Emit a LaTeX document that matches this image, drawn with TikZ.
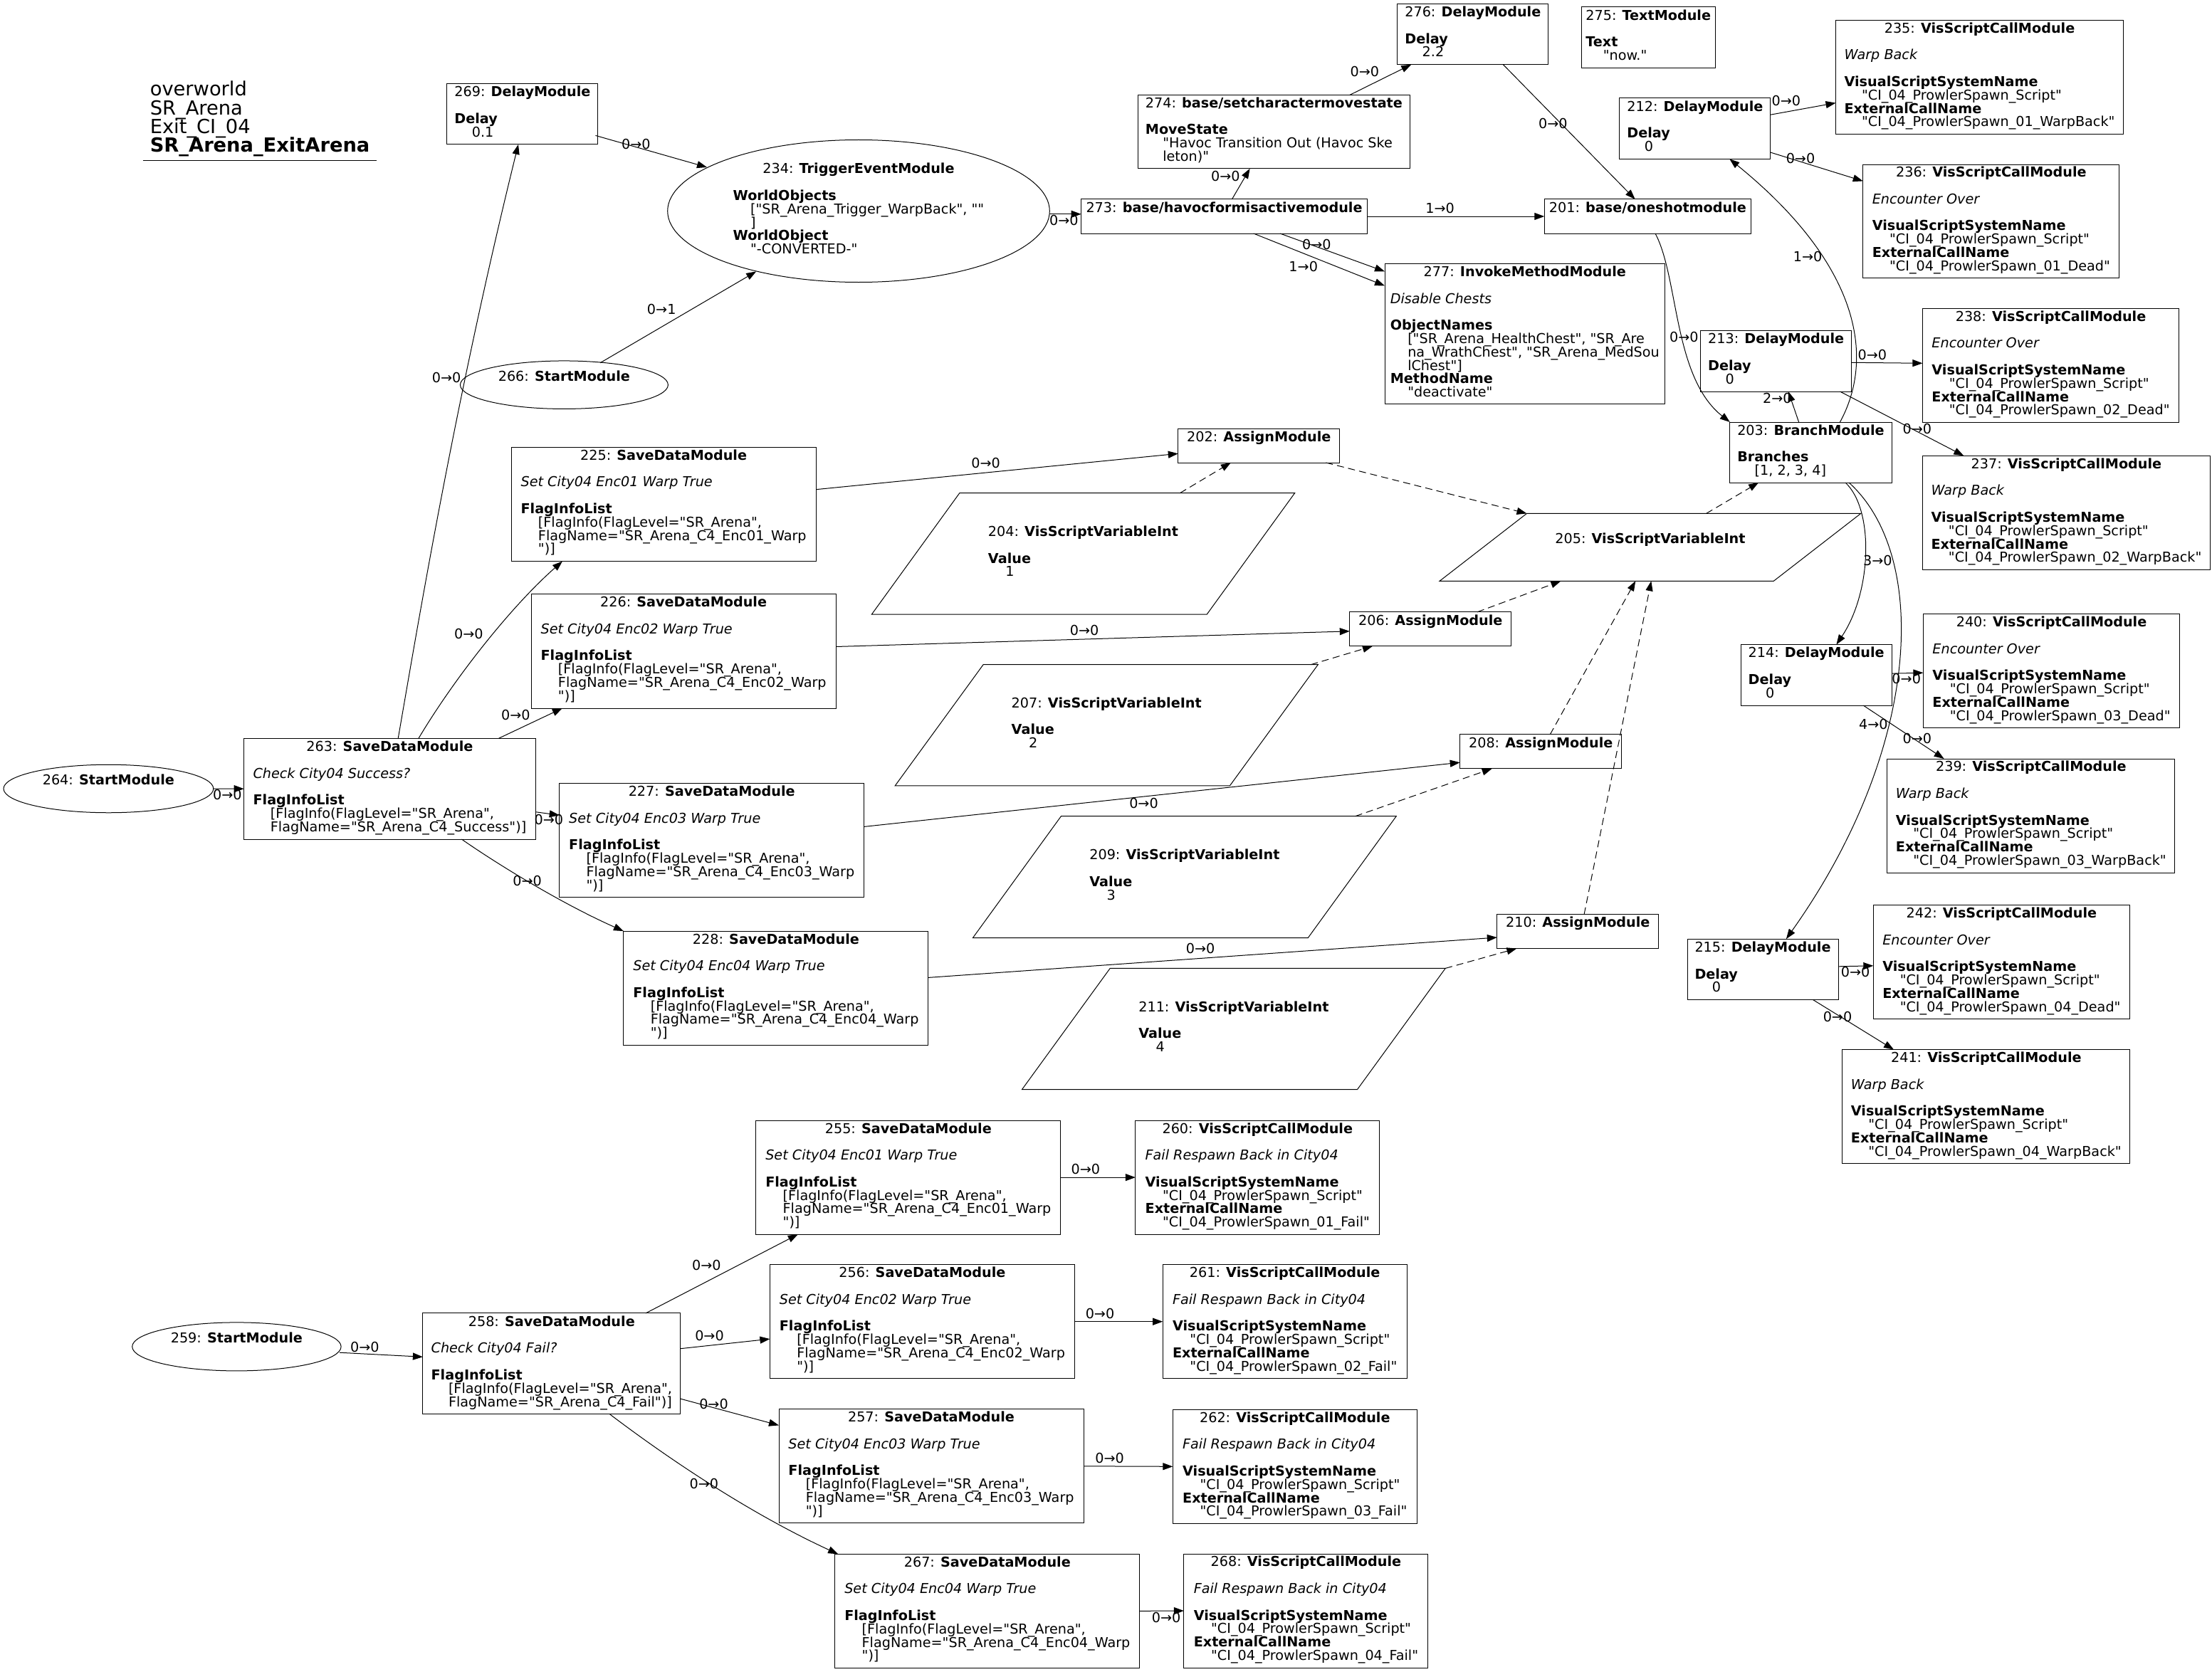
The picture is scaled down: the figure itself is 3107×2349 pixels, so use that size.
\documentclass[tikz,border=0pt]{standalone}
\usepackage{fontspec}
\setmainfont{DejaVu Sans}[Ligatures=TeXOff,ItalicFont={DejaVu Sans Oblique},BoldFont={DejaVu Sans Bold},BoldItalicFont={DejaVu Sans Bold Oblique}]
\usetikzlibrary{arrows.meta,shapes.geometric,calc}
\newcommand\bodyfont{\fontsize{19.2pt}{18.8pt}\selectfont}
\newcommand\hdfont{\fontsize{27.3pt}{26.3pt}\selectfont}
\newcommand\Tl[2]{\multicolumn{1}{@{}c@{}}{\smash{#1: \textbf{#2}}}}
\newcommand\Kl[1]{\smash{\textbf{#1}}}
\newcommand\Il[1]{\smash{\textit{#1}}}
\newcommand\Vl[1]{\smash{\hspace*{24.4pt}#1}}
\newcommand\Tb[1]{\begin{tabular}{@{}l@{}}#1\end{tabular}}
\newcommand\VSC[4]{\Tb{\Tl{#1}{VisScriptCallModule}\\ \\ \Il{#2}\\ \\ \Kl{VisualScriptSystemName}\\ \Vl{"CI\_04\_ProwlerSpawn\_Script"}\\ \Kl{ExternalCallName}\\ \Vl{"CI\_04\_ProwlerSpawn\_0#3\_#4"}}}
\newcommand\SDM[2]{\Tb{\Tl{#1}{SaveDataModule}\\ \\ \Il{Set City04 Enc0#2 Warp True}\\ \\ \Kl{FlagInfoList}\\ \Vl{[FlagInfo(FlagLevel="SR\_Arena",}\\ \Vl{FlagName="SR\_Arena\_C4\_Enc0#2\_Warp}\\ \Vl{")]}}}
\newcommand\DLM[2]{\Tb{\Tl{#1}{DelayModule}\\ \\ \Kl{Delay}\\ \Vl{#2}}}
\newcommand\ONE[2]{\Tb{\Tl{#1}{#2}\\ \mbox{}}}
\newcommand\VSV[2]{\Tb{\Tl{#1}{VisScriptVariableInt}\\ \\ \Kl{Value}\\ \Vl{#2}}}
\tikzset{
  bx/.style={draw, rectangle, line width=1pt, inner sep=0pt, outer sep=0pt, font=\bodyfont},
  el/.style={draw, ellipse, line width=1pt, inner sep=0pt, outer sep=0pt, font=\bodyfont},
  pg/.style={draw=none, rectangle, inner sep=0pt, outer sep=0pt, font=\bodyfont},
  pgline/.style={line width=1pt, line join=miter},
  lb/.style={inner sep=0pt, font=\bodyfont},
  hd/.style={inner sep=0pt, font=\hdfont},
  ar/.style={line width=1pt, -{Triangle[length=14pt,width=10pt]}},
  dar/.style={ar, dash pattern=on 10pt off 6pt}
}
\begin{document}
\begin{tikzpicture}[x=1pt,y=-1pt]
\fill[white] (0,0) rectangle (3107,2349);
\useasboundingbox (0,0) rectangle (3107,2349);

% title
\node[hd, anchor=base west] (t1) at (210.6,135) {overworld};
\node[hd, anchor=base west] (t2) at (210.6,161.3) {SR\_Arena};
\node[hd, anchor=base west] (t3) at (210.6,187.6) {Exit\_CI\_04};
\node[hd, anchor=base west] (t4) at (210.6,214) {\textbf{SR\_Arena\_ExitArena}};
\draw[line width=1pt] (200.5,225.7) -- (529,225.7);

% ellipses
\node[el, minimum width=536.6pt, minimum height=200pt] (n234) at (1206,296.5) {\Tb{\Tl{234}{TriggerEventModule}\\ \\ \Kl{WorldObjects}\\ \Vl{["SR\_Arena\_Trigger\_WarpBack", ""}\\ \Vl{]}\\ \Kl{WorldObject}\\ \Vl{"-CONVERTED-"}}};
\node[el, minimum width=292pt, minimum height=67.5pt] (n266) at (792.4,540.7) {\ONE{266}{StartModule}};
\node[el, minimum width=294.8pt, minimum height=67.5pt] (n264) at (152.4,1108) {\ONE{264}{StartModule}};
\node[el, minimum width=293.4pt, minimum height=68pt] (n259) at (332.4,1891.9) {\ONE{259}{StartModule}};

% delay modules
\node[bx, minimum width=212pt, minimum height=85.5pt] (n269) at (733.9,160.2) {\DLM{269}{0.1}};
\node[bx, minimum width=212pt, minimum height=85.5pt] (n276) at (2068.8,47.9) {\DLM{276}{2.2}};
\node[bx, minimum width=212pt, minimum height=85.5pt] (n212) at (2380.9,180.6) {\DLM{212}{0}};
\node[bx, minimum width=212pt, minimum height=85.5pt] (n213) at (2494.6,507.3) {\DLM{213}{0}};
\node[bx, minimum width=212pt, minimum height=85.5pt] (n214) at (2551.2,948.3) {\DLM{214}{0}};
\node[bx, minimum width=212pt, minimum height=85.5pt] (n215) at (2476,1361.9) {\DLM{215}{0}};

\node[bx, minimum width=188.1pt, minimum height=85.2pt] (n275) at (2315.2,52.6) {\Tb{\Tl{275}{TextModule}\\ \\ \Kl{Text}\\ \Vl{"now."}}};
\node[bx, minimum width=401.8pt, minimum height=48pt] (n273) at (1719.5,304) {\ONE{273}{base/havocformisactivemodule}};
\node[bx, minimum width=381.9pt, minimum height=103.3pt] (n274) at (1789.4,185.2) {\Tb{\Tl{274}{base/setcharactermovestate}\\ \\ \Kl{MoveState}\\ \Vl{"Havoc Transition Out (Havoc Ske}\\ \Vl{leton)"}}};
\node[bx, minimum width=290.3pt, minimum height=48pt] (n201) at (2314.4,304) {\ONE{201}{base/oneshotmodule}};
\node[bx, minimum width=393.6pt, minimum height=197pt] (n277) at (2141.8,469.3) {\Tb{\Tl{277}{InvokeMethodModule}\\ \\ \Il{Disable Chests}\\ \\ \Kl{ObjectNames}\\ \Vl{["SR\_Arena\_HealthChest", "SR\_Are}\\ \Vl{na\_WrathChest", "SR\_Arena\_MedSou}\\ \Vl{lChest"]}\\ \Kl{MethodName}\\ \Vl{"deactivate"}}};
\node[bx, minimum width=227.2pt, minimum height=85pt] (n203) at (2543.4,635.5) {\Tb{\Tl{203}{BranchModule}\\ \\ \Kl{Branches}\\ \Vl{[1, 2, 3, 4]}}};

% assign modules
\node[bx, minimum width=227pt, minimum height=48pt] (n202) at (1768.3,626) {\ONE{202}{AssignModule}};
\node[bx, minimum width=227pt, minimum height=48pt] (n206) at (2009.3,883.8) {\ONE{206}{AssignModule}};
\node[bx, minimum width=227pt, minimum height=48pt] (n208) at (2164.2,1055.8) {\ONE{208}{AssignModule}};
\node[bx, minimum width=227pt, minimum height=48pt] (n210) at (2216.3,1308.5) {\ONE{210}{AssignModule}};

% vis script call modules
\node[bx, minimum width=404pt, minimum height=159.5pt] (n235) at (2780.5,108.3) {\VSC{235}{Warp Back}{1}{WarpBack}};
\node[bx, minimum width=360.2pt, minimum height=159.5pt] (n236) at (2796.8,310.8) {\VSC{236}{Encounter Over}{1}{Dead}};
\node[bx, minimum width=360.2pt, minimum height=160pt] (n238) at (2880.5,513.4) {\VSC{238}{Encounter Over}{2}{Dead}};
\node[bx, minimum width=404pt, minimum height=160pt] (n237) at (2902.4,720.3) {\VSC{237}{Warp Back}{2}{WarpBack}};
\node[bx, minimum width=360.2pt, minimum height=160pt] (n240) at (2881.5,942.5) {\VSC{240}{Encounter Over}{3}{Dead}};
\node[bx, minimum width=404pt, minimum height=160pt] (n239) at (2852.8,1146) {\VSC{239}{Warp Back}{3}{WarpBack}};
\node[bx, minimum width=360.2pt, minimum height=160pt] (n242) at (2811.4,1351.6) {\VSC{242}{Encounter Over}{4}{Dead}};
\node[bx, minimum width=404pt, minimum height=160pt] (n241) at (2789.8,1554.6) {\VSC{241}{Warp Back}{4}{WarpBack}};
\node[bx, minimum width=343pt, minimum height=160pt] (n260) at (1766.3,1654.1) {\VSC{260}{Fail Respawn Back in City04}{1}{Fail}};
\node[bx, minimum width=343pt, minimum height=160pt] (n261) at (1804.7,1856.7) {\VSC{261}{Fail Respawn Back in City04}{2}{Fail}};
\node[bx, minimum width=343pt, minimum height=160pt] (n262) at (1818.8,2060.3) {\VSC{262}{Fail Respawn Back in City04}{3}{Fail}};
\node[bx, minimum width=343pt, minimum height=160pt] (n268) at (1834.4,2263) {\VSC{268}{Fail Respawn Back in City04}{4}{Fail}};

% save data modules
\node[bx, minimum width=409.5pt, minimum height=141.6pt] (n263) at (547.4,1108.2) {\Tb{\Tl{263}{SaveDataModule}\\ \\ \Il{Check City04 Success?}\\ \\ \Kl{FlagInfoList}\\ \Vl{[FlagInfo(FlagLevel="SR\_Arena",}\\ \Vl{FlagName="SR\_Arena\_C4\_Success")]}}};
\node[bx, minimum width=361.8pt, minimum height=141.9pt] (n258) at (774.8,1915.9) {\Tb{\Tl{258}{SaveDataModule}\\ \\ \Il{Check City04 Fail?}\\ \\ \Kl{FlagInfoList}\\ \Vl{[FlagInfo(FlagLevel="SR\_Arena",}\\ \Vl{FlagName="SR\_Arena\_C4\_Fail")]}}};
\node[bx, minimum width=428pt, minimum height=160.4pt] (n225) at (932.1,708.4) {\SDM{225}{1}};
\node[bx, minimum width=428pt, minimum height=160.4pt] (n226) at (960.1,914.8) {\SDM{226}{2}};
\node[bx, minimum width=428pt, minimum height=160.2pt] (n227) at (999.7,1180.5) {\SDM{227}{3}};
\node[bx, minimum width=428pt, minimum height=160.2pt] (n228) at (1089.9,1388.1) {\SDM{228}{4}};
\node[bx, minimum width=428pt, minimum height=160pt] (n255) at (1275.8,1654.1) {\SDM{255}{1}};
\node[bx, minimum width=428pt, minimum height=160pt] (n256) at (1295.4,1856.7) {\SDM{256}{2}};
\node[bx, minimum width=428pt, minimum height=160pt] (n257) at (1308,2059.8) {\SDM{257}{3}};
\node[bx, minimum width=428pt, minimum height=160pt] (n267) at (1386.8,2263.3) {\SDM{267}{4}};

% parallelograms
\node[pg, minimum width=594.2pt, minimum height=170.4pt] (n204) at (1521.5,777.9) {\VSV{204}{1}};
\node[pg, minimum width=591.6pt, minimum height=94.9pt] (n205) at (2317.9,768.85) {\ONE{205}{VisScriptVariableInt}};
\node[pg, minimum width=594.1pt, minimum height=170.2pt] (n207) at (1554.25,1018.8) {\VSV{207}{2}};
\node[pg, minimum width=594.7pt, minimum height=170.8pt] (n209) at (1663.85,1232.1) {\VSV{209}{3}};
\node[pg, minimum width=594.7pt, minimum height=170.2pt] (n211) at (1732.85,1445.5) {\VSV{211}{4}};
\foreach \n/\o in {n204/123.4,n205/122.4,n207/123.9,n209/123.9,n211/123.7}{
  \draw[pgline] ([shift={(\o,0)}]\n.north west) -- (\n.north east) -- ([shift={(-\o,0)}]\n.south east) -- (\n.south west) -- cycle;
}

% edges
\draw[ar] ($(n269)+(102.6,30.2)$) -- ($(n234)+(-213,-61.5)$);
\draw[ar] ($(n266)+(50.6,-30.9)$) -- ($(n234)+(-143.8,84.9)$);
\draw[ar] ($(n263)+(11.8,-70.8)$) .. controls (590,860) and (640,560) .. ($(n269)+(-5.9,42.75)$);
\draw[ar] ($(n263)+(40.5,-70.8)$) .. controls (640,950) and (720,850) .. ($(n225)+(-142.2,80.2)$);
\draw[ar] ($(n263)+(152.9,-70.8)$) -- ($(n226)+(-170.2,80.2)$);
\draw[ar] ($(n263)+(204.75,32.5)$) -- ($(n227)+(-214,-35.3)$);
\draw[ar] ($(n263)+(101,70.8)$) .. controls (700,1215) and (790,1270) .. ($(n228)+(-214,-80)$);
\draw[ar] (n264.east) -- (n263.west);
\draw[ar] ($(n234)+(268.3,4.3)$) -- ($(n273)+(-200.9,-3.2)$);
\draw[ar] ($(n273)+(10.9,-24)$) -- ($(n274)+(-33.8,51.65)$);
\draw[ar] ($(n274)+(106.3,-51.65)$) -- ($(n276)+(-86.5,42.75)$);
\draw[ar] ($(n276)+(42.5,42.75)$) -- ($(n201)+(-17.7,-24)$);
\draw[ar] (n273.east) -- (n201.west);
\draw[ar] ($(n273)+(78.4,24)$) -- ($(n277)+(-196.8,-87.9)$);
\draw[ar] ($(n273)+(41.2,24)$) -- ($(n277)+(-196.8,-67.8)$);
\draw[ar] ($(n201)+(10.6,24)$) .. controls (2358,390) and (2350,530) .. ($(n203)+(-113.6,-42.5)$);
\draw[ar] ($(n203)+(-16.8,-42.5)$) -- ($(n213)+(17.3,42.75)$);
\draw[ar] ($(n203)+(41.1,-42.5)$) .. controls (2635,500) and (2610,370) .. ($(n212)+(48.4,42.75)$);
\draw[ar] ($(n212)+(106,-19.4)$) -- ($(n235)+(-202,36.3)$);
\draw[ar] ($(n212)+(106,33.5)$) -- ($(n236)+(-180.1,-56.4)$);
\draw[ar] ($(n213)+(106,2)$) -- ($(n238)+(-180.1,-3.1)$);
\draw[ar] ($(n213)+(89.9,42.75)$) -- ($(n237)+(-144.1,-80)$);
\draw[ar] ($(n203)+(48.6,42.5)$) .. controls (2632,715) and (2630,830) .. ($(n214)+(28.2,-42.75)$);
\draw[ar] ($(n203)+(53.6,42.5)$) .. controls (2710,780) and (2700,1050) .. ($(n215)+(32.9,-42.75)$);
\draw[ar] ($(n214)+(106,-2.1)$) -- ($(n240)+(-180.1,2.7)$);
\draw[ar] ($(n214)+(66,42.75)$) -- ($(n239)+(-122.2,-80)$);
\draw[ar] ($(n215)+(106,-4.1)$) -- ($(n242)+(-180.1,5.2)$);
\draw[ar] ($(n215)+(70.7,42.75)$) -- ($(n241)+(-129.8,-80)$);
\draw[ar] ($(n225)+(214,-20.7)$) -- ($(n202)+(-113.5,11.3)$);
\draw[ar] ($(n226)+(214,-6.3)$) -- ($(n206)+(-113.5,3)$);
\draw[ar] ($(n227)+(214,-19.1)$) -- ($(n208)+(-113.5,15.4)$);
\draw[ar] ($(n228)+(214,-14.7)$) -- ($(n210)+(-113.5,8.5)$);
% dashed
\draw[dar] ($(n204)+(135.9,-85.2)$) -- ($(n202)+(-39.4,24)$);
\draw[dar] ($(n202)+(94.1,24)$) -- ($(n205)+(-173.4,-47.45)$);
\draw[dar] ($(n207)+(287,-85.1)$) -- ($(n206)+(-81.4,24)$);
\draw[dar] ($(n206)+(65.7,-24)$) -- ($(n205)+(-125.5,47.45)$);
\draw[dar] ($(n209)+(239.85,-85.4)$) -- ($(n208)+(-68.5,24)$);
\draw[dar] ($(n208)+(13.1,-24)$) -- ($(n205)+(-20.7,47.45)$);
\draw[dar] ($(n211)+(297.35,-85.1)$) -- ($(n210)+(-85.9,24)$);
\draw[dar] ($(n210)+(8.8,-24)$) -- ($(n205)+(1.4,47.45)$);
\draw[dar] ($(n205)+(78.7,-47.45)$) -- ($(n203)+(-73.3,42.5)$);
% lower group
\draw[ar] ($(n259)+(144.7,8.3)$) -- ($(n258)+(-180.9,-9.6)$);
\draw[ar] ($(n258)+(132.1,-70.95)$) -- ($(n255)+(-155,80)$);
\draw[ar] ($(n258)+(180.9,-21.2)$) -- ($(n256)+(-214,24.4)$);
\draw[ar] ($(n258)+(180.9,49.2)$) -- ($(n257)+(-214,-57.4)$);
\draw[ar] ($(n258)+(81.8,70.95)$) .. controls (920,2035) and (1040,2120) .. ($(n267)+(-209.7,-80)$);
\draw[ar] (n255.east) -- (n260.west);
\draw[ar] (n256.east) -- (n261.west);
\draw[ar] (n257.east) -- (n262.west);
\draw[ar] (n267.east) -- (n268.west);

% labels
\node[lb] (l1) at (893.4,202.5) {0→0};
\node[lb] (l2) at (929.2,434.3) {0→1};
\node[lb] (l3) at (627.2,530.5) {0→0};
\node[lb] (l4) at (658.4,890.8) {0→0};
\node[lb] (l5) at (724.4,1004.2) {0→0};
\node[lb] (l6) at (770.8,1151.8) {0→0};
\node[lb] (l7) at (740.6,1237.9) {0→0};
\node[lb] (l8) at (319.4,1116.5) {0→0};
\node[lb] (l9) at (1494.4,309.3) {0→0};
\node[lb] (l10) at (1721.4,247.4) {0→0};
\node[lb] (l11) at (1916.8,100.8) {0→0};
\node[lb] (l12) at (2181.3,173.3) {0→0};
\node[lb] (l13) at (2022.6,292.7) {1→0};
\node[lb] (l14) at (1849.3,344) {0→0};
\node[lb] (l15) at (1830.7,374.3) {1→0};
\node[lb] (l16) at (2365.3,473.6) {0→0};
\node[lb] (l17) at (2496.3,559.2) {2→0};
\node[lb] (l18) at (2539.1,360.2) {1→0};
\node[lb] (l19) at (2508.9,141.6) {0→0};
\node[lb] (l20) at (2529,222.2) {0→0};
\node[lb] (l21) at (2629.8,498.2) {0→0};
\node[lb] (l22) at (2692.8,603) {0→0};
\node[lb] (l23) at (2637.4,787.6) {3→0};
\node[lb] (l24) at (2631.3,1017.8) {4→0};
\node[lb] (l25) at (2677.7,953.8) {0→0};
\node[lb] (l26) at (2692.8,1037.4) {0→0};
\node[lb] (l27) at (2606.1,1365.9) {0→0};
\node[lb] (l28) at (2581,1428.4) {0→0};
\node[lb] (l29) at (1384.6,650.4) {0→0};
\node[lb] (l30) at (1523.1,885.8) {0→0};
\node[lb] (l31) at (1606.5,1128.6) {0→0};
\node[lb] (l32) at (1686.1,1332.6) {0→0};
\node[lb] (l42) at (512.3,1892.2) {0→0};
\node[lb] (l43) at (992.4,1777.4) {0→0};
\node[lb] (l44) at (996.5,1876.6) {0→0};
\node[lb] (l45) at (1002.5,1972.7) {0→0};
\node[lb] (l46) at (988.9,2084.4) {0→0};
\node[lb] (l47) at (1524.9,1642) {0→0};
\node[lb] (l48) at (1545,1845.3) {0→0};
\node[lb] (l49) at (1558.6,2048.7) {0→0};
\node[lb] (l50) at (1638.1,2272.1) {0→0};
\end{tikzpicture}
\end{document}
